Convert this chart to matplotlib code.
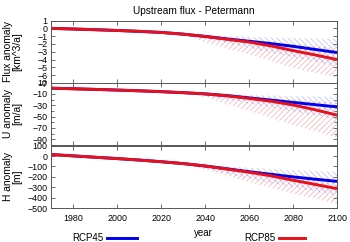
import numpy as np
import matplotlib.pyplot as plt
from matplotlib.lines import Line2D

plt.rcParams['font.family'] = ['Liberation Sans', 'DejaVu Sans']
plt.rcParams['hatch.linewidth'] = 0.5

# years and model curves
years = [1970, 1980, 1990, 2000, 2010, 2020, 2030, 2040, 2050, 2060, 2070, 2080, 2090, 2100]

flux_45 = [0, -0.08, -0.17, -0.27, -0.38, -0.52, -0.74, -1.03, -1.35, -1.65, -1.95, -2.3, -2.7, -3.1]
flux_85 = [0, -0.08, -0.17, -0.27, -0.38, -0.52, -0.74, -1.03, -1.4, -1.75, -2.25, -2.85, -3.4, -4.0]
u_45 = [0, -1.0, -2.1, -3.3, -4.6, -6.1, -7.9, -10, -13, -17, -21, -25, -29, -33]
u_85 = [0, -1.0, -2.1, -3.3, -4.6, -6.1, -7.9, -10, -13.5, -18, -23, -29.5, -38, -47.5]
h_45 = [15, 2, -11, -24, -38, -54, -72, -95, -122, -150, -175, -200, -222, -243]
h_85 = [15, 2, -11, -24, -38, -54, -72, -95, -125, -155, -190, -232, -272, -313]

# uncertainty bands (from 2030 on)
band_years = [2030, 2040, 2050, 2060, 2070, 2080, 2090, 2100]
flux_45_hi = [-0.74, -0.85, -0.95, -1.05, -1.15, -1.25, -1.3, -1.35]
flux_45_lo = [-0.74, -1.3, -1.9, -2.5, -3.1, -3.7, -4.3, -4.9]
flux_85_hi = [-0.74, -0.95, -1.2, -1.45, -1.7, -1.95, -2.2, -2.5]
flux_85_lo = [-0.74, -1.8, -2.6, -3.3, -4.2, -5.1, -5.7, -6.3]
u_45_hi = [-7.9, -9, -10.5, -12, -13, -14, -14.5, -15]
u_45_lo = [-7.9, -13, -20, -27, -34, -41, -48, -55]
u_85_hi = [-7.9, -10, -12.5, -15, -17.5, -20, -22.5, -25]
u_85_lo = [-7.9, -16, -28, -40, -52, -65, -76, -87]
h_45_hi = [-72, -85, -100, -112, -124, -134, -143, -150]
h_45_lo = [-72, -120, -170, -215, -260, -300, -340, -380]
h_85_hi = [-72, -95, -120, -145, -165, -185, -205, -220]
h_85_lo = [-72, -130, -190, -250, -305, -360, -410, -460]

ylabels = ['Flux anomaly\n[km^3/a]', 'U anomaly\n[m/a]', 'H anomaly\n[m]']
ylims = [(-7, 1), (-100, 10), (-500, 100)]
yticks = [np.arange(1, -8, -1), np.arange(10, -100, -20), np.arange(100, -600, -100)]
yminor = [None, np.arange(10, -101, -10), None]

blue = '#0000ee'
red = '#e8101a'
frame = '#555555'

fig = plt.figure(figsize=(3.5, 2.42), dpi=100)
left, width = 0.146, 0.817
bottoms = [0.657, 0.401, 0.140]
height = 0.258

panels = [
    (flux_45, flux_85, flux_45_hi, flux_45_lo, flux_85_hi, flux_85_lo),
    (u_45, u_85, u_45_hi, u_45_lo, u_85_hi, u_85_lo),
    (h_45, h_85, h_45_hi, h_45_lo, h_85_hi, h_85_lo),
]

for i, (s45, s85, b45h, b45l, b85h, b85l) in enumerate(panels):
    ax = fig.add_axes([left, bottoms[i], width, height])
    ax.fill_between(band_years, b85l, b85h, facecolor='none', edgecolor=red,
                    hatch='//////', linewidth=0, alpha=0.35)
    ax.fill_between(band_years, b45l, b45h, facecolor='none', edgecolor=blue,
                    hatch='\\\\\\\\\\\\', linewidth=0, alpha=0.28)
    ax.plot(years, s45, color=blue, lw=2.1, solid_capstyle='butt')
    ax.plot(years, s85, color=red, lw=2.1, solid_capstyle='butt')

    ax.set_xlim(1970, 2100)
    ax.set_ylim(*ylims[i])
    ax.set_xticks(np.arange(1980, 2101, 20))
    ax.set_yticks(yticks[i])
    if yminor[i] is not None:
        ax.set_yticks(yminor[i], minor=True)
    ax.tick_params(direction='in', length=3, width=0.6, color=frame,
                   top=True, right=True, labelsize=6.4, pad=2.5)
    ax.tick_params(which='minor', direction='in', length=2, width=0.6,
                   color=frame, right=True, left=True)
    for sp in ax.spines.values():
        sp.set_color(frame)
        sp.set_linewidth(0.7)
    if i < 2:
        ax.tick_params(labelbottom=False)
    else:
        ax.tick_params(axis='x', pad=4.5)
    ax.set_ylabel(ylabels[i], fontsize=7.4, linespacing=1.0)
    ax.yaxis.set_label_coords(-0.1, 0.5)
    if i == 0:
        ax.set_title('Upstream flux - Petermann', fontsize=7.3, pad=5)

fig.text(203 / 350, 1 - 233 / 242, 'year', fontsize=7, ha='center', va='center')

# legend drawn below the axes
fig.text(103 / 350, 1 - 238 / 242, 'RCP45', fontsize=7, ha='right', va='center')
fig.add_artist(Line2D([107 / 350, 137 / 350], [1 - 238 / 242] * 2, color=blue, lw=2.1))
fig.text(275 / 350, 1 - 238 / 242, 'RCP85', fontsize=7, ha='right', va='center')
fig.add_artist(Line2D([279 / 350, 305 / 350], [1 - 238 / 242] * 2, color=red, lw=2.1))

fig.savefig('out.png', dpi=100)
